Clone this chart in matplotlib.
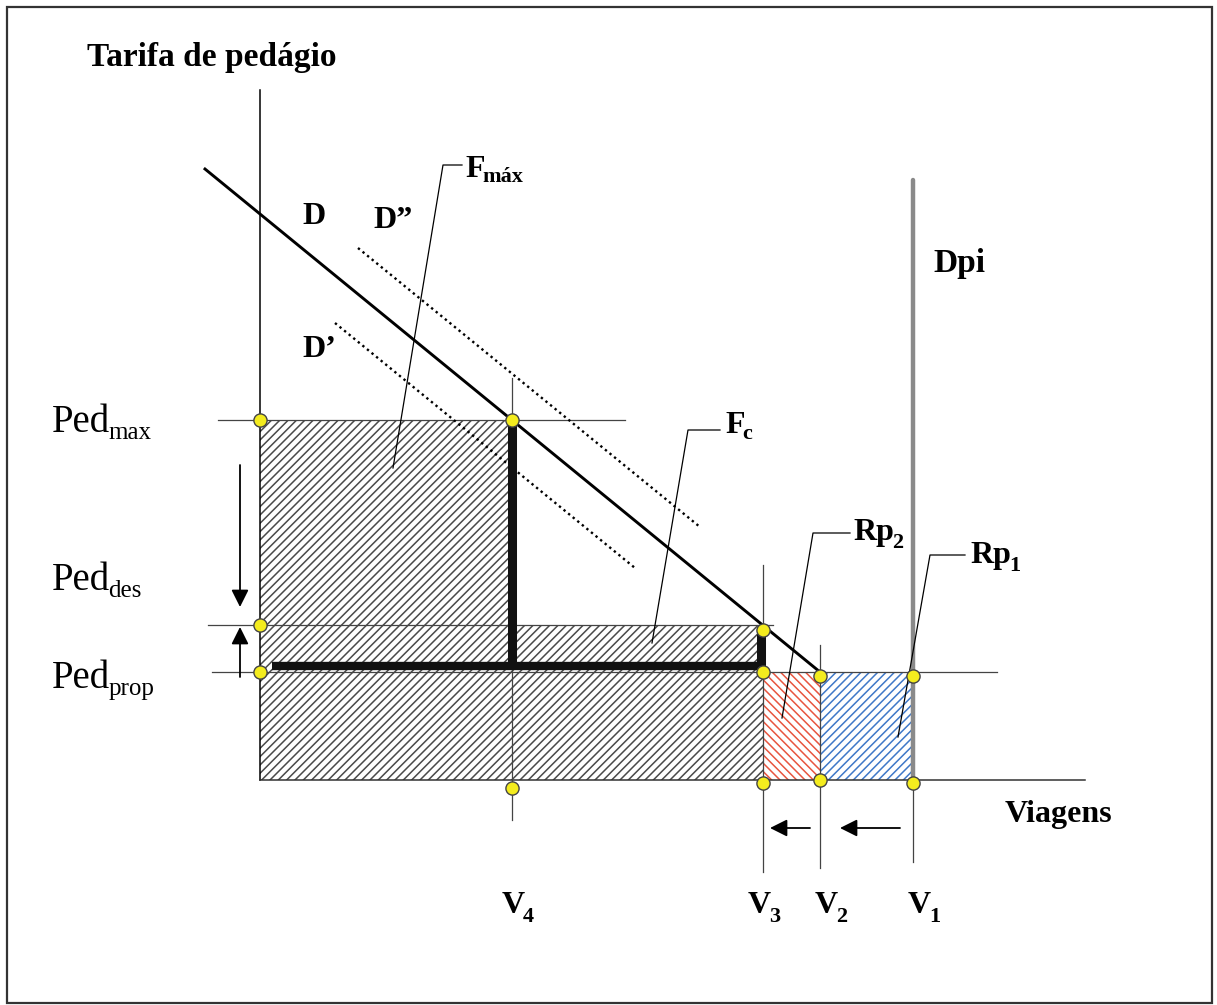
import matplotlib
matplotlib.use('Agg')
import matplotlib.pyplot as plt
from matplotlib.patches import Rectangle, Polygon

plt.rcParams['font.family'] = ['Liberation Serif', 'DejaVu Serif']
plt.rcParams['hatch.linewidth'] = 1.1

# trip volumes (x) and toll levels (y)
V4, V3, V2, V1 = 2.52, 5.03, 5.60, 6.53
ped_max, ped_des, ped_prop = 3.60, 1.55, 1.08
fc_level = 1.14

# demand curves (end points)
d_x = [-0.55, V2]
d_y = [6.11, ped_prop]
d2_x = [0.98, 4.40]   # D''
d2_y = [5.32, 2.53]
d1_x = [0.75, 3.75]   # D'
d1_y = [4.57, 2.12]
dpi_top = 6.00

# marked points
pt_x = [0, V4, 0, 0, V4, V3, V3, V2, V1, V3, V2, V1]
pt_y = [ped_max, ped_max, ped_des, ped_prop, -0.08, 1.50, ped_prop, 1.04, 1.04, -0.03, 0, -0.03]

fig = plt.figure(figsize=(12.17, 10.05), dpi=100)
ax = fig.add_axes([0, 0, 1, 1])
ax.set_xlim(-2.60, 9.57)
ax.set_ylim(-2.25, 7.80)
ax.axis('off')

# outer frame
ax.add_patch(Rectangle((-2.53, -2.23), 12.05, 9.96, fill=False, lw=1.6, ec='#333333'))

# hatched areas: revenue at Ped_max / Ped_des, then the two lost-revenue strips
revenue = [(0, 0), (V3, 0), (V3, ped_des), (V4, ped_des), (V4, ped_max), (0, ped_max)]
ax.add_patch(Polygon(revenue, closed=True, fill=False, hatch='////', ec='#4a4a4a', lw=0))
ax.add_patch(Rectangle((V3, 0), V2 - V3, ped_prop, fill=False, hatch='\\\\\\\\', ec='#e8553f', lw=0))
ax.add_patch(Rectangle((V2, 0), V1 - V2, ped_prop, fill=False, hatch='////', ec='#3f78c8', lw=0))

# axes
ax.plot([0, 0], [0, 6.90], color='black', lw=1.1)
ax.plot([0, 8.25], [0, 0], color='#333333', lw=1.1)

# toll level guides
guide = dict(color='#444444', lw=0.9)
ax.plot([-0.42, 3.65], [ped_max, ped_max], **guide)
ax.plot([-0.52, 5.13], [ped_des, ped_des], **guide)
ax.plot([-0.48, 7.37], [ped_prop, ped_prop], **guide)

# volume guides
ax.plot([V4, V4], [-0.40, 4.02], **guide)
ax.plot([V3, V3], [-0.92, 2.15], **guide)
ax.plot([V2, V2], [-0.88, 1.35], **guide)
ax.plot([V1, V1], [-0.82, 0], **guide)

# demand curves
ax.plot(d_x, d_y, color='black', lw=2.1)
ax.plot(d2_x, d2_y, color='black', lw=1.7, linestyle=(0, (1, 1.5)))
ax.plot(d1_x, d1_y, color='black', lw=1.7, linestyle=(0, (1, 1.5)))
ax.plot([V1, V1], [0, dpi_top], color='#8a8a8a', lw=3.2, solid_capstyle='round')

# F_max / F_c thick lines
ax.plot([V4, V4], [3.55, 1.12], color='#111111', lw=6.5, solid_capstyle='butt')
ax.plot([0.12, V3], [fc_level, fc_level], color='#111111', lw=6.0, solid_capstyle='butt')
ax.plot([V3 - 0.02, V3 - 0.02], [1.48, 1.12], color='#111111', lw=6.5, solid_capstyle='butt')

# points
ax.scatter(pt_x, pt_y, s=90, color='#f4ec1e', edgecolor='#444444', linewidths=1.0, zorder=5)

# leader lines
lead = dict(color='black', lw=0.9)
ax.plot([2.02, 1.83, 1.33], [6.15, 6.15, 3.12], **lead)
ax.plot([4.60, 4.28, 3.92], [3.50, 3.50, 1.37], **lead)
ax.plot([5.90, 5.53, 5.22], [2.47, 2.47, 0.62], **lead)
ax.plot([7.05, 6.70, 6.38], [2.25, 2.25, 0.43], **lead)

# arrows
arr = dict(arrowstyle='-|>', color='black', lw=1.3, mutation_scale=26, shrinkA=0, shrinkB=0)
ax.annotate('', xy=(-0.20, 1.73), xytext=(-0.20, 3.15), arrowprops=arr)
ax.annotate('', xy=(-0.20, 1.53), xytext=(-0.20, 1.03), arrowprops=arr)
ax.annotate('', xy=(5.10, -0.48), xytext=(5.50, -0.48), arrowprops=arr)
ax.annotate('', xy=(5.80, -0.48), xytext=(6.40, -0.48), arrowprops=arr)

renderer = fig.canvas.get_renderer()


def label(x, y, main, sub=None, size=23, sub_size=16, drop=8, weight='bold'):
    t = ax.text(x, y, main, fontsize=size, fontweight=weight, ha='left', va='baseline')
    if sub:
        bb = t.get_window_extent(renderer=renderer)
        bx, by = ax.transData.transform((x, y))
        sx, sy = ax.transData.inverted().transform((bb.x1 - 2, by - drop))
        ax.text(sx, sy, sub, fontsize=sub_size, fontweight=weight, ha='left', va='baseline')


label(-1.73, 7.14, 'Tarifa de pedágio', size=24)
label(0.42, 5.56, 'D')
label(1.13, 5.52, 'D\u201d')
label(0.42, 4.23, 'D\u2019')
label(2.05, 6.03, 'F', 'máx', drop=5)
label(4.65, 3.47, 'F', 'c', drop=6)
label(5.93, 2.40, 'Rp', '2')
label(7.10, 2.17, 'Rp', '1')
label(6.73, 5.08, 'Dpi', size=24)
label(7.45, -0.42, 'Viagens')
for vx, s in [(2.42, '4'), (4.88, '3'), (5.55, '2'), (6.48, '1')]:
    label(vx, -1.33, 'V', s, drop=9)
label(-2.08, 3.48, 'Ped', 'max', size=28, sub_size=18, drop=7, weight='normal')
label(-2.08, 1.90, 'Ped', 'des', size=28, sub_size=18, drop=7, weight='normal')
label(-2.08, 0.92, 'Ped', 'prop', size=28, sub_size=18, drop=7, weight='normal')

fig.savefig('out.png', dpi=100)
